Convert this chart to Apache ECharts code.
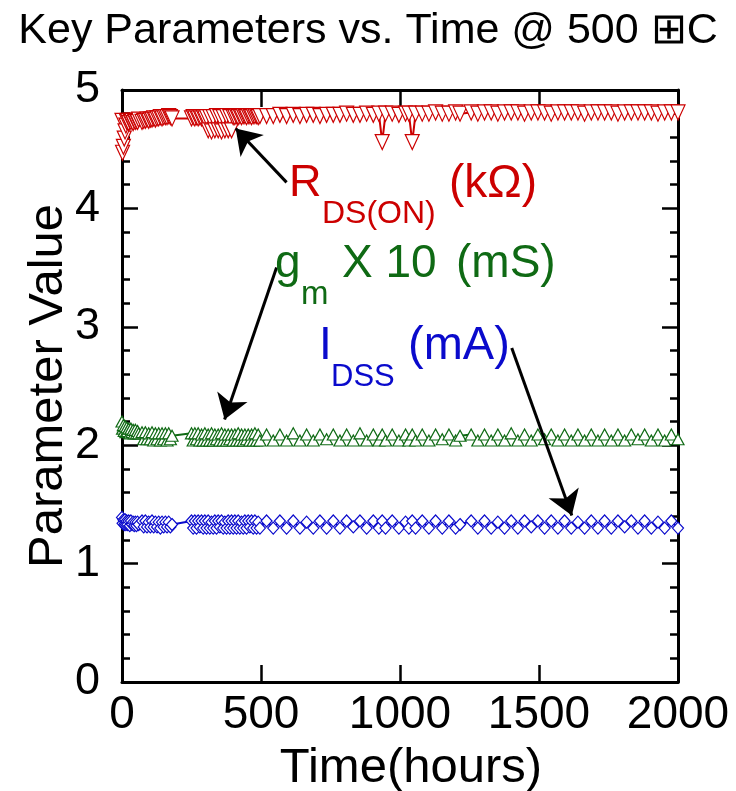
<!DOCTYPE html>
<html>
<head>
<meta charset="utf-8">
<script src="https://cdn.jsdelivr.net/npm/echarts/dist/echarts.min.js"></script>
<style>
  html, body { margin: 0; padding: 0; background: #fff; }
  #chart { width: 736px; height: 791px; }
</style>
</head>
<body>
<div id="chart"></div>
<script>
// time points (hours), shared by the three traces
const hours = [
  0, 2, 5, 8, 11, 14, 17, 20, 24, 28, 32, 36, 40, 44, 48, 52, 56, 60,
  72, 78, 84, 90, 96, 102, 108, 114, 120, 126, 132, 138, 144, 150, 156, 162, 168, 174, 180,
  250, 256, 262, 268, 274, 280, 286, 292, 298, 304,
  310, 316, 322, 328, 334, 340, 346, 352, 358, 364, 370, 376, 382, 388, 394, 400,
  406, 412, 418, 424, 430, 436, 442, 448, 454, 460, 466, 472, 478, 484, 490, 496,
  520, 544, 568, 592, 616, 640, 664, 688, 712, 736, 760, 784, 808, 832, 856, 880, 904,
  924, 936, 948, 972, 996, 1020, 1032, 1044, 1056,
  1080, 1104, 1128, 1152, 1176, 1200, 1216,
  1256, 1280, 1304, 1328, 1352, 1376, 1400, 1424, 1448, 1472, 1496, 1520, 1544, 1568, 1592, 1616,
  1640, 1664, 1688, 1712, 1736, 1760, 1784, 1808, 1832, 1856, 1880, 1904, 1928, 1952, 1976, 2000
];

// R_DS(ON) (kOhm)
const rdsOn = [
  4.74, 4.47, 4.52, 4.59, 4.65, 4.70, 4.73, 4.74, 4.72, 4.74, 4.73, 4.74, 4.72, 4.74, 4.73, 4.74, 4.73, 4.75,
  4.73, 4.74, 4.74, 4.75, 4.74, 4.75, 4.75, 4.76, 4.75, 4.76, 4.76, 4.77, 4.76, 4.77, 4.77, 4.77, 4.78, 4.77, 4.76,
  4.76, 4.77, 4.76, 4.77, 4.76, 4.77, 4.76, 4.77, 4.76, 4.77,
  4.66, 4.77, 4.65, 4.77, 4.66, 4.78, 4.66, 4.77, 4.65, 4.77, 4.66, 4.78, 4.66, 4.77, 4.66, 4.77,
  4.77, 4.78, 4.77, 4.78, 4.77, 4.78, 4.78, 4.77, 4.78, 4.78, 4.77, 4.78, 4.78, 4.78, 4.77, 4.78,
  4.78, 4.78, 4.79, 4.78, 4.79, 4.78, 4.79, 4.79, 4.78, 4.79, 4.79, 4.79, 4.80, 4.79, 4.79, 4.80, 4.79,
  4.80, 4.56, 4.80, 4.80, 4.79, 4.80, 4.80, 4.56, 4.80,
  4.80, 4.80, 4.81, 4.80, 4.80, 4.81, 4.80,
  4.81, 4.80, 4.81, 4.81, 4.80, 4.81, 4.81, 4.81, 4.80, 4.81, 4.81, 4.81, 4.80, 4.81, 4.81, 4.81,
  4.81, 4.80, 4.81, 4.81, 4.81, 4.81, 4.80, 4.81, 4.81, 4.81, 4.81, 4.81, 4.80, 4.81, 4.81, 4.81
];

// g_m x 10 (mS)
const gm10 = [
  2.20, 2.14, 2.17, 2.12, 2.16, 2.11, 2.15, 2.12, 2.14, 2.10, 2.14, 2.11, 2.13, 2.10, 2.13, 2.10, 2.12, 2.10,
  2.11, 2.05, 2.11, 2.05, 2.10, 2.05, 2.11, 2.04, 2.10, 2.05, 2.10, 2.04, 2.10, 2.05, 2.10, 2.04, 2.10, 2.05, 2.08,
  2.10, 2.04, 2.10, 2.05, 2.10, 2.04, 2.09, 2.04, 2.10, 2.04,
  2.09, 2.04, 2.10, 2.04, 2.09, 2.05, 2.09, 2.04, 2.10, 2.04, 2.09, 2.04, 2.09, 2.05, 2.09, 2.04,
  2.09, 2.04, 2.10, 2.04, 2.09, 2.04, 2.09, 2.05, 2.09, 2.04, 2.09, 2.04, 2.10, 2.04, 2.09, 2.04,
  2.09, 2.04, 2.09, 2.04, 2.10, 2.04, 2.09, 2.04, 2.09, 2.05, 2.09, 2.04, 2.09, 2.04, 2.10, 2.04, 2.09,
  2.04, 2.09, 2.04, 2.09, 2.04, 2.09, 2.04, 2.09, 2.04,
  2.09, 2.04, 2.09, 2.05, 2.09, 2.04, 2.08,
  2.09, 2.04, 2.09, 2.04, 2.09, 2.04, 2.10, 2.04, 2.09, 2.04, 2.09, 2.05, 2.09, 2.04, 2.09, 2.04,
  2.09, 2.04, 2.09, 2.04, 2.09, 2.04, 2.09, 2.04, 2.09, 2.05, 2.09, 2.04, 2.09, 2.04, 2.09, 2.05
];

// I_DSS (mA)
const idss = [
  1.39, 1.34, 1.37, 1.33, 1.37, 1.33, 1.36, 1.33, 1.36, 1.32, 1.36, 1.33, 1.35, 1.32, 1.35, 1.32, 1.35, 1.33,
  1.36, 1.31, 1.36, 1.31, 1.35, 1.31, 1.36, 1.31, 1.35, 1.31, 1.35, 1.30, 1.35, 1.31, 1.35, 1.31, 1.35, 1.31, 1.33,
  1.36, 1.30, 1.36, 1.30, 1.36, 1.31, 1.36, 1.30, 1.36, 1.30,
  1.36, 1.30, 1.35, 1.30, 1.36, 1.30, 1.36, 1.31, 1.36, 1.30, 1.35, 1.30, 1.36, 1.30, 1.36, 1.30,
  1.36, 1.30, 1.36, 1.30, 1.35, 1.30, 1.36, 1.30, 1.36, 1.31, 1.36, 1.30, 1.36, 1.30, 1.35, 1.30,
  1.36, 1.30, 1.36, 1.30, 1.36, 1.30, 1.35, 1.30, 1.36, 1.30, 1.36, 1.30, 1.36, 1.31, 1.36, 1.30, 1.36,
  1.30, 1.36, 1.30, 1.36, 1.30, 1.35, 1.30, 1.36, 1.30,
  1.36, 1.30, 1.36, 1.30, 1.36, 1.30, 1.33,
  1.36, 1.30, 1.36, 1.30, 1.35, 1.30, 1.36, 1.30, 1.36, 1.31, 1.36, 1.30, 1.36, 1.30, 1.36, 1.30,
  1.35, 1.30, 1.36, 1.30, 1.36, 1.30, 1.36, 1.31, 1.36, 1.30, 1.36, 1.30, 1.35, 1.30, 1.36, 1.30
];

const xTicks = [0, 500, 1000, 1500, 2000];
const yTicks = [0, 1, 2, 3, 4, 5];

// annotation arrows: [from, to] in data units
const arrowR = [[592, 4.22], [409, 4.675]];
const arrowG = [[556, 3.50], [369, 2.217]];
const arrowI = [[1402, 2.82], [1618, 1.406]];

const RED = '#cc0000';
const GREEN = '#0f6a14';
const BLUE = '#0a0acc';
const FONT = '"Liberation Sans", Arial, Helvetica, sans-serif';

const chart = echarts.init(document.getElementById('chart'), null, { renderer: 'canvas' });

function pairs(xs, ys) {
  return xs.map((x, i) => [x, ys[i]]);
}

function arrowLine(a) {
  return {
    silent: true,
    symbol: ['none', 'arrow'],
    symbolSize: 24,
    label: { show: false },
    lineStyle: { color: '#000', width: 3, type: 'solid' },
    itemStyle: { color: '#000' },
    animation: false,
    data: [[{ coord: a[0] }, { coord: a[1] }]]
  };
}

function lineSeries(name, data, color, symbol, size, rotate, arrow) {
  return {
    name: name,
    type: 'line',
    data: data,
    symbol: symbol,
    symbolSize: size,
    symbolRotate: rotate,
    showAllSymbol: true,
    itemStyle: { color: '#fff', borderColor: color, borderWidth: 1.2 },
    lineStyle: { color: color, width: 2 },
    emphasis: { disabled: true },
    markLine: arrowLine(arrow),
    animation: false
  };
}

const axisBase = {
  type: 'value',
  axisLine: { show: true, onZero: false, lineStyle: { color: '#000', width: 3 } },
  splitLine: { show: false }
};

const option = {
  backgroundColor: '#fff',
  animation: false,
  title: {
    text: 'Key Parameters vs. Time @ 500 \u229EC',
    left: 'center',
    top: 5,
    textStyle: { fontFamily: FONT, fontSize: 43, fontWeight: 'normal', color: '#000' }
  },
  grid: { left: 122, right: 58, top: 90, bottom: 109, outerBoundsMode: 'none', containLabel: false },
  xAxis: [
    Object.assign({}, axisBase, {
      position: 'bottom',
      min: xTicks[0],
      max: xTicks[xTicks.length - 1],
      interval: 500,
      axisTick: { inside: true, length: 17, lineStyle: { color: '#000', width: 2.5 } },
      axisLabel: { fontFamily: FONT, fontSize: 46, color: '#000', margin: 10, formatter: v => String(v) },
      name: 'Time(hours)',
      nameLocation: 'middle',
      nameGap: 62,
      nameMoveOverlap: false,
      nameTextStyle: { fontFamily: FONT, fontSize: 49, color: '#000', padding: [0, 0, 0, 22] }
    }),
    Object.assign({}, axisBase, {
      position: 'top',
      min: xTicks[0],
      max: xTicks[xTicks.length - 1],
      interval: 500,
      axisTick: { inside: true, length: 17, lineStyle: { color: '#000', width: 2.5 } },
      axisLabel: { show: false }
    })
  ],
  yAxis: [
    Object.assign({}, axisBase, {
      position: 'left',
      min: yTicks[0],
      max: yTicks[yTicks.length - 1],
      interval: 1,
      axisTick: { inside: true, length: 16, lineStyle: { color: '#000', width: 2.5 } },
      minorTick: { show: true, splitNumber: 5, length: 8, lineStyle: { color: '#000', width: 2.5 } },
      axisLabel: { fontFamily: FONT, fontSize: 45, color: '#000', margin: 22 },
      name: 'Parameter Value',
      nameLocation: 'middle',
      nameGap: 49,
      nameMoveOverlap: false,
      nameTextStyle: { fontFamily: FONT, fontSize: 49, color: '#000' }
    }),
    Object.assign({}, axisBase, {
      position: 'right',
      min: yTicks[0],
      max: yTicks[yTicks.length - 1],
      interval: 1,
      axisTick: { inside: true, length: 16, lineStyle: { color: '#000', width: 2.5 } },
      minorTick: { show: true, splitNumber: 5, length: 8, lineStyle: { color: '#000', width: 2.5 } },
      axisLabel: { show: false }
    })
  ],
  series: [
    lineSeries('gm', pairs(hours, gm10), GREEN, 'triangle', [12, 11], 0, arrowG),
    lineSeries('idss', pairs(hours, idss), BLUE, 'diamond', [11, 12], 0, arrowI),
    lineSeries('rds', pairs(hours, rdsOn), RED, 'triangle', [14, 15], 180, arrowR)
  ],
  graphic: [
    { type: 'text', x: 289, y: 184, z: 100, style: { text: 'R', fontFamily: FONT, fontSize: 45, fill: RED, verticalAlign: 'middle' } },
    { type: 'text', x: 322, y: 214, z: 100, style: { text: 'DS(ON)', fontFamily: FONT, fontSize: 32, fill: RED, verticalAlign: 'middle' } },
    { type: 'text', x: 449, y: 184, z: 100, style: { text: '(k\u03A9)', fontFamily: FONT, fontSize: 46, fill: RED, verticalAlign: 'middle' } },
    { type: 'text', x: 275, y: 264, z: 100, style: { text: 'g', fontFamily: FONT, fontSize: 46, fill: GREEN, verticalAlign: 'middle' } },
    { type: 'text', x: 301, y: 295, z: 100, style: { text: 'm', fontFamily: FONT, fontSize: 33, fill: GREEN, verticalAlign: 'middle' } },
    { type: 'text', x: 342, y: 264, z: 100, style: { text: 'X 10', fontFamily: FONT, fontSize: 46, fill: GREEN, verticalAlign: 'middle' } },
    { type: 'text', x: 456, y: 264, z: 100, style: { text: '(mS)', fontFamily: FONT, fontSize: 46, fill: GREEN, verticalAlign: 'middle' } },
    { type: 'text', x: 319, y: 346, z: 100, style: { text: 'I', fontFamily: FONT, fontSize: 46, fill: BLUE, verticalAlign: 'middle' } },
    { type: 'text', x: 331, y: 377, z: 100, style: { text: 'DSS', fontFamily: FONT, fontSize: 31, fill: BLUE, verticalAlign: 'middle' } },
    { type: 'text', x: 408, y: 346, z: 100, style: { text: '(mA)', fontFamily: FONT, fontSize: 47, fill: BLUE, verticalAlign: 'middle' } }
  ]
};

chart.setOption(option);
</script>
</body>
</html>
